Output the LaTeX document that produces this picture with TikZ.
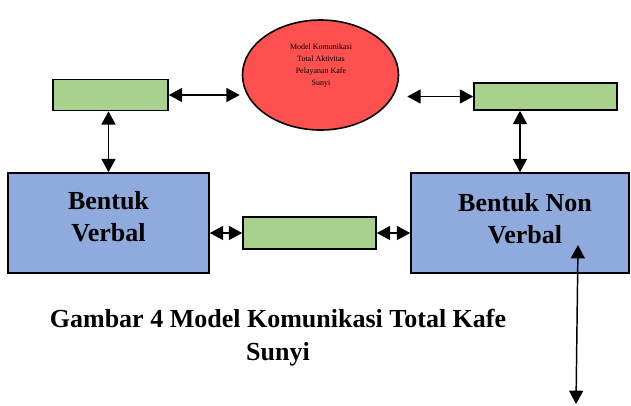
\documentclass[tikz,border=0pt]{standalone}
\usepackage{fontspec}
\setmainfont{Liberation Serif}
\usetikzlibrary{arrows.meta,shapes.geometric}
\definecolor{boxgreen}{RGB}{169,209,142}
\definecolor{boxblue}{RGB}{143,170,220}
\definecolor{ellred}{RGB}{255,80,80}

\begin{document}
\begin{tikzpicture}[x=0.75pt,y=-0.75pt,
  greenbox/.style={draw, line width=1.2pt, fill=boxgreen, inner sep=0pt},
  bluebox/.style={draw, line width=1.2pt, fill=boxblue, inner sep=0pt},
  bluetext/.style={align=center, font=\fontsize{19.5}{24}\selectfont\bfseries},
  link/.style={{Triangle[length=10pt,width=10.5pt]}-{Triangle[length=10pt,width=10.5pt]}, line width=1.1pt}]
\useasboundingbox (0,0) rectangle (631,405);
\node[draw, ellipse, line width=1.2pt, fill=ellred, minimum width=117pt, minimum height=82.5pt] (ell) at (320.5,75) {};
\node[align=center, font=\fontsize{6}{9}\selectfont] (elltext) at (321,66) {Model Komunikasi\\Total Aktivitas\\Pelayanan Kafe\\Sunyi};
\node[greenbox, minimum width=86.25pt, minimum height=23.25pt] (lg) at (110.5,95) {};
\node[greenbox, minimum width=107.25pt, minimum height=20.25pt] (rg) at (545.5,96.5) {};
\node[greenbox, minimum width=99.75pt, minimum height=24pt] (mg) at (309.5,233) {};
\node[bluebox, minimum width=150.75pt, minimum height=75pt] (lb) at (108.5,223) {};
\node[bluebox, minimum width=163.5pt, minimum height=75pt] (rb) at (520,223) {};
\node[bluetext] (lbtext) at (108.5,217) {Bentuk\\Verbal};
\node[bluetext] (rbtext) at (525,219) {Bentuk Non\\Verbal};
\node[align=center, font=\fontsize{19.5}{24.75}\selectfont\bfseries] (cap) at (278,338) {Gambar 4 Model Komunikasi Total Kafe\\Sunyi};
\coordinate (nvtop) at (578,245);
\coordinate (nvbot) at (576,404);
\draw[link, shorten >=1.5pt] (lg.east) -- (ell.west |- lg.east);
\draw[link, shorten >=6pt] (rg.west) -- (ell.east |- rg.west);
\draw[link] (lb.north) -- (lb.north |- lg.south);
\draw[link] (rb.north) -- (rb.north |- rg.south);
\draw[link] (mg.west) -- (mg.west -| lb.east);
\draw[link] (mg.east) -- (mg.east -| rb.west);
\draw[link] (nvtop) -- (nvbot);
\end{tikzpicture}
\end{document}
